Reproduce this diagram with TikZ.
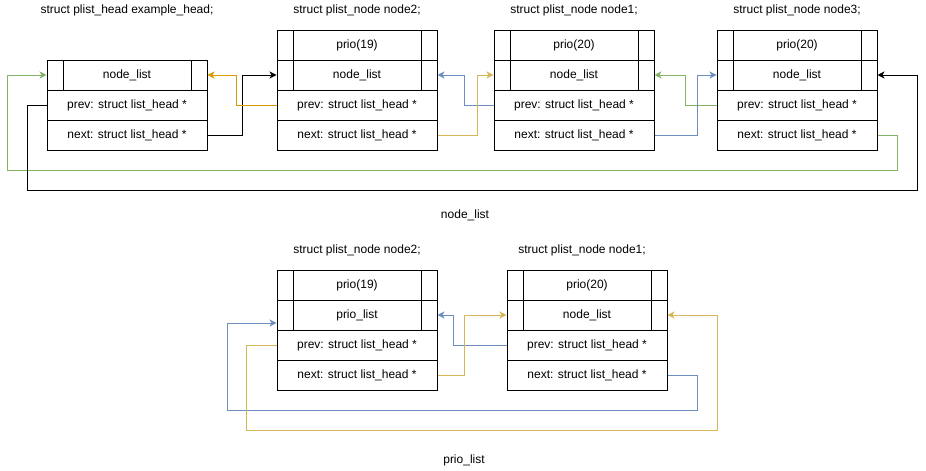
\documentclass[tikz,border=0pt]{standalone}
\usepackage{fontspec}
\setmainfont{Liberation Sans}
\usetikzlibrary{arrows.meta}
\definecolor{cgreen}{HTML}{82B366}
\definecolor{corange}{HTML}{D79B00}
\definecolor{cblue}{HTML}{6C8EBF}
\definecolor{cyellow}{HTML}{D6B656}
\tikzset{
  row/.style={draw=black, line width=1pt, minimum width=160pt, minimum height=30pt, inner sep=0pt, font=\fontsize{12}{14}\selectfont},
  hdr/.style={row, path picture={
      \draw[line width=1pt] ([xshift=16pt]path picture bounding box.north west) -- ([xshift=16pt]path picture bounding box.south west);
      \draw[line width=1pt] ([xshift=-16pt]path picture bounding box.north east) -- ([xshift=-16pt]path picture bounding box.south east);}},
  ttl/.style={font=\fontsize{12}{14}\selectfont, inner sep=0pt},
  link/.style={line width=1pt, -{Stealth[length=7pt,width=7pt,inset=2pt]}, rounded corners=0pt},
}
\begin{document}
\begin{tikzpicture}[x=1pt, y=-1pt]
\useasboundingbox[fill=white] (0,0) rectangle (926,471);

% ---------- top row ----------
\node[ttl] (t-h) at (127,10) {struct plist\_head example\_head;};
\node[hdr] (h-nl) at (127,75) {node\_list};
\node[row] (h-prev) at (127,105) {prev: struct list\_head *};
\node[row] (h-next) at (127,135) {next: struct list\_head *};

\node[ttl] (t-n2) at (357,10) {struct plist\_node node2;};
\node[hdr] (n2-prio) at (357,45) {prio(19)};
\node[hdr] (n2-nl) at (357,75) {node\_list};
\node[row] (n2-prev) at (357,105) {prev: struct list\_head *};
\node[row] (n2-next) at (357,135) {next: struct list\_head *};

\node[ttl] (t-n1) at (574,10) {struct plist\_node node1;};
\node[hdr] (n1-prio) at (574,45) {prio(20)};
\node[hdr] (n1-nl) at (574,75) {node\_list};
\node[row] (n1-prev) at (574,105) {prev: struct list\_head *};
\node[row] (n1-next) at (574,135) {next: struct list\_head *};

\node[ttl] (t-n3) at (797,10) {struct plist\_node node3;};
\node[hdr] (n3-prio) at (797,45) {prio(20)};
\node[hdr] (n3-nl) at (797,75) {node\_list};
\node[row] (n3-prev) at (797,105) {prev: struct list\_head *};
\node[row] (n3-next) at (797,135) {next: struct list\_head *};

\node[ttl] (lbl-nl) at (465,215) {node\_list};

\coordinate (g1) at (897,170);
\coordinate (g2) at (7,170);
\coordinate (k1) at (27,190);
\coordinate (k2) at (917,190);

\draw[link, black] (h-next.east) -- ++(35,0) |- (n2-nl.west);
\draw[link, corange] (n2-prev.west) -- ++(-40,0) |- (h-nl.east);
\draw[link, cblue] (n1-prev.west) -- ++(-29,0) |- (n2-nl.east);
\draw[link, cyellow] (n2-next.east) -- ++(40,0) |- (n1-nl.west);
\draw[link, cgreen] (n3-prev.west) -- ++(-31,0) |- (n1-nl.east);
\draw[link, cblue] (n1-next.east) -- ++(43,0) |- (n3-nl.west);
\draw[link, cgreen] (n3-next.east) -| (g1) -- (g2) |- (h-nl.west);
\draw[link, black] (h-prev.west) -| (k1) -- (k2) |- (n3-nl.east);

% ---------- bottom row ----------
\node[ttl] (t-b2) at (357,250) {struct plist\_node node2;};
\node[hdr] (b2-prio) at (357,285) {prio(19)};
\node[hdr] (b2-pl) at (357,315) {prio\_list};
\node[row] (b2-prev) at (357,345) {prev: struct list\_head *};
\node[row] (b2-next) at (357,375) {next: struct list\_head *};

\node[ttl] (t-b1) at (582,250) {struct plist\_node node1;};
\node[hdr] (b1-prio) at (587,285) {prio(20)};
\node[hdr] (b1-nl) at (587,315) {node\_list};
\node[row] (b1-prev) at (587,345) {prev: struct list\_head *};
\node[row] (b1-next) at (587,375) {next: struct list\_head *};

\node[ttl] (lbl-pl) at (464,460) {prio\_list};

\coordinate (bb1) at (697,410);
\coordinate (bb2) at (227,410);
\coordinate (by1) at (246,430);
\coordinate (by2) at (717,430);

\draw[link, cblue] (b1-prev.west) -- ++(-53,0) |- (b2-pl.east);
\draw[link, cyellow] (b2-next.east) -- ++(27,0) |- (b1-nl.west);
\draw[link, cblue] (b1-next.east) -| (bb1) -- (bb2) |- ([yshift=-8pt]b2-pl.west);
\draw[link, cyellow] (b2-prev.west) -| (by1) -- (by2) |- (b1-nl.east);
\end{tikzpicture}
\end{document}
